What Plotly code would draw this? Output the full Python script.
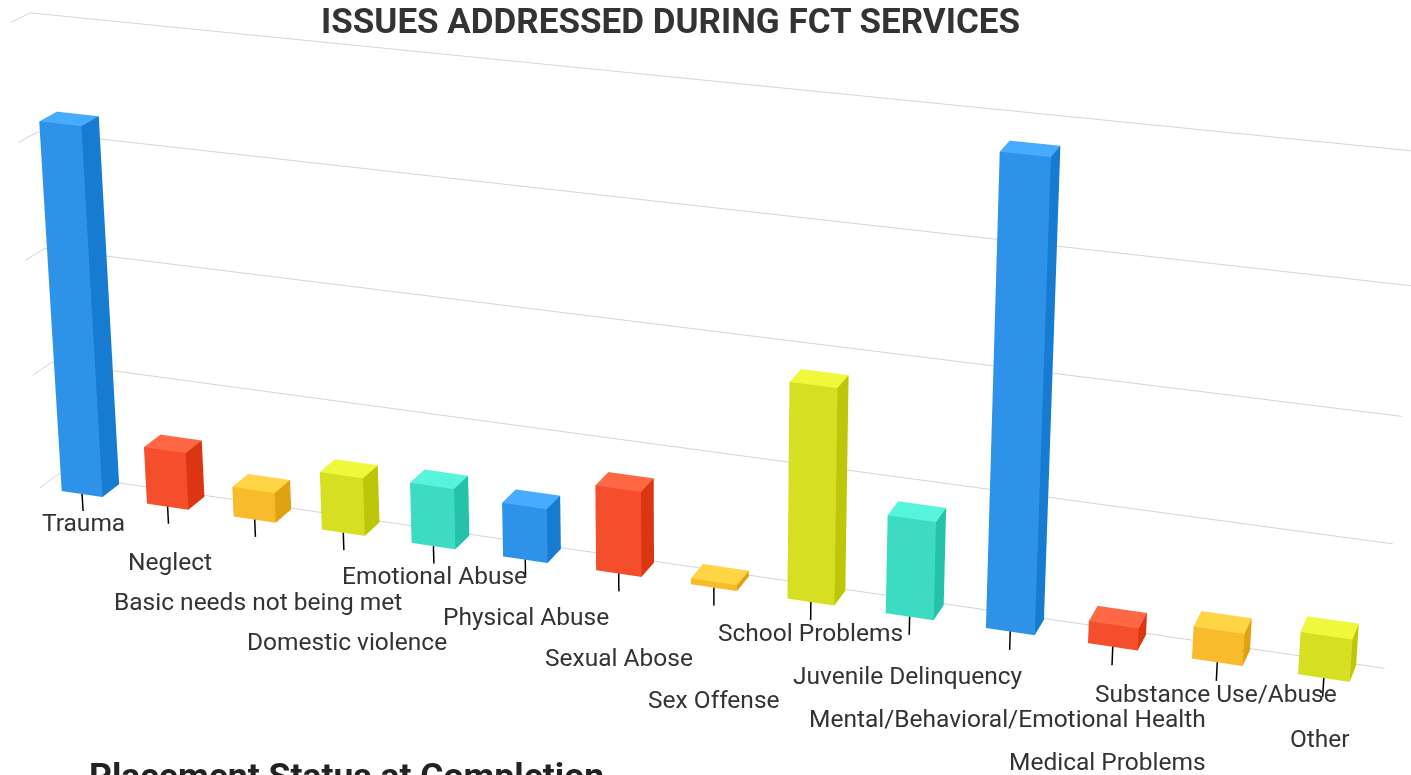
import numpy as np
import plotly.graph_objects as go

categories = ["Trauma", "Neglect", "Basic needs not being met", "Domestic violence",
              "Emotional Abuse", "Physical Abuse", "Sexual Abose", "Sex Offense",
              "School Problems", "Juvenile Delinquency",
              "Mental/Behavioral/Emotional Health", "Medical Problems",
              "Substance Use/Abuse", "Other"]
values = [32, 5, 2.6, 5, 5.2, 4.6, 7.2, 0.5, 17.9, 8.1, 37.8, 1.8, 2.6, 3.4]
z_ticks = [0, 10, 20, 30, 40]

# palette: (front, side, top)
palette = [
    ("#2E93E8", "#177CD1", "#47ACFF"),
    ("#F54E2C", "#DC3513", "#FF6745"),
    ("#F7BB2C", "#DEA213", "#FFD445"),
    ("#D7DF23", "#BEC60A", "#F0F83C"),
    ("#3DDBC2", "#24C2A9", "#56F4DB"),
]

HALF_W = 0.24
Y0, Y1 = 0.0, 0.92
XR, YR, ZR = (-0.5, 13.5), (0.0, 1.0), (-14.0, 40.0)
SX, SY, SZ = 101.2, 40.0, 12.82     # world size of one data unit along x, y, z

X, Y, Z, I, J, K, FC = [], [], [], [], [], [], []
for idx, v in enumerate(values):
    front, side, top = palette[idx % len(palette)]
    x0, x1 = idx - HALF_W, idx + HALF_W
    base = len(X)
    pts = [(x0, Y0, 0), (x1, Y0, 0), (x1, Y1, 0), (x0, Y1, 0),
           (x0, Y0, v), (x1, Y0, v), (x1, Y1, v), (x0, Y1, v)]
    for p in pts:
        X.append(p[0]); Y.append(p[1]); Z.append(p[2])
    faces = [((0, 1, 5), front), ((0, 5, 4), front),
             ((1, 2, 6), side), ((1, 6, 5), side),
             ((4, 5, 6), top), ((4, 6, 7), top),
             ((3, 2, 6), front), ((3, 6, 7), front),
             ((0, 3, 7), side), ((0, 7, 4), side),
             ((0, 1, 2), front), ((0, 2, 3), front)]
    for (a, b, c), col in faces:
        I.append(base + a); J.append(base + b); K.append(base + c); FC.append(col)

bars = go.Mesh3d(x=X, y=Y, z=Z, i=I, j=J, k=K, facecolor=FC, flatshading=True,
                 lighting=dict(ambient=1.0, diffuse=0.0, specular=0.0, roughness=1.0, fresnel=0.0),
                 hoverinfo="skip", showscale=False)

LZ = 13.0 / SZ   # keep label offsets constant in pixels
tx, ty, tz = [], [], []
for idx in range(len(categories)):
    tx += [idx, idx, None]; ty += [Y0, Y0, None]; tz += [0, -1.5 * LZ, None]
ticks = go.Scatter3d(x=tx, y=ty, z=tz, mode="lines", line=dict(color="#000000", width=3),
                     hoverinfo="skip", showlegend=False)

label_font = dict(family="Roboto", size=24.5, color="#333333")
annotations3d = []
for idx, cat in enumerate(categories):
    row = idx % 4
    annotations3d.append(dict(x=idx, y=Y0, z=-(2.55 + 2.3 * row) * LZ, text=cat, showarrow=False,
                              font=label_font, xanchor="center", yanchor="middle"))

# ---- perspective camera (3D view similar to the original chart) ----
F_PX = 3512.7                      # focal length in px (fovy = 45deg in plotly)
PPX, PPY = 690.0, 197.0            # principal point in the visible window
beta, alpha = np.radians(19.49), np.radians(18.31)
r = np.array([np.cos(beta), np.sin(beta), 0.0])
u = np.array([-np.sin(beta) * np.sin(alpha), np.cos(beta) * np.sin(alpha), np.cos(alpha)])
w = np.array([-np.sin(beta) * np.cos(alpha), np.cos(beta) * np.cos(alpha), -np.sin(alpha)])
UNIT = 354.2
ext = np.array([(XR[1] - XR[0]) * SX, (YR[1] - YR[0]) * SY, (ZR[1] - ZR[0]) * SZ])
aspect = ext / UNIT
box_c = np.array([np.mean(XR) * SX, np.mean(YR) * SY, np.mean(ZR) * SZ])
M = np.array([6.5 * SX, 0.0, 0.0])
camM = np.array([-23.9, -383.6, F_PX])
E = M - (camM[0] * r + camM[1] * u + camM[2] * w)
C = E + camM[2] * w
eye_n = (E - box_c) / UNIT
cen_n = (C - box_c) / UNIT

H_S = 2 * F_PX * np.tan(np.pi / 8)
W_S = 1460.0
LEFT = PPX - W_S / 2
TOP = PPY - H_S / 2


def px(xv):
    return (xv - LEFT) / W_S


def py(yv):
    return 1 - (yv - TOP) / H_S


fig = go.Figure([bars, ticks])
fig.update_layout(
    width=int(round(W_S)), height=int(round(H_S)),
    margin=dict(l=0, r=0, t=0, b=0),
    paper_bgcolor="white",
    showlegend=False,
    scene=dict(
        domain=dict(x=[0, 1], y=[0, 1]),
        xaxis=dict(range=list(XR), visible=False),
        yaxis=dict(range=list(YR), visible=False),
        zaxis=dict(range=list(ZR), tickvals=z_ticks, showticklabels=False, showgrid=True,
                   gridcolor="#d4d4d4", gridwidth=2, showline=False, zeroline=False,
                   showbackground=False, showspikes=False, title=dict(text=""), ticks=""),
        aspectmode="manual",
        aspectratio=dict(x=aspect[0], y=aspect[1], z=aspect[2]),
        camera=dict(eye=dict(x=eye_n[0], y=eye_n[1], z=eye_n[2]),
                    center=dict(x=cen_n[0], y=cen_n[1], z=cen_n[2]), up=dict(x=0, y=0, z=1),
                    projection=dict(type="perspective")),
        annotations=annotations3d,
    ),
    annotations=[
        dict(text="<b>ISSUES ADDRESSED DURING FCT SERVICES</b>", x=px(670), y=py(21),
             xref="paper", yref="paper", xanchor="center", yanchor="middle", showarrow=False,
             font=dict(family="Roboto", size=35, color="#333333")),
        dict(text="<b>Placement Status at Completion</b>", x=px(87), y=py(753),
             xref="paper", yref="paper", xanchor="left", yanchor="top", showarrow=False,
             font=dict(family="Roboto", size=35.5, color="#222222")),
    ],
)

post = """
var gd = document.getElementById('{plot_id}');
document.documentElement.style.overflow = 'hidden';
document.body.style.overflow = 'hidden';
document.body.style.margin = '0';
gd.style.position = 'absolute';
gd.style.left = '%dpx';
gd.style.top = '%dpx';
""" % (int(round(LEFT)), int(round(TOP)))

fig.write_html("out.html", post_script=post)
